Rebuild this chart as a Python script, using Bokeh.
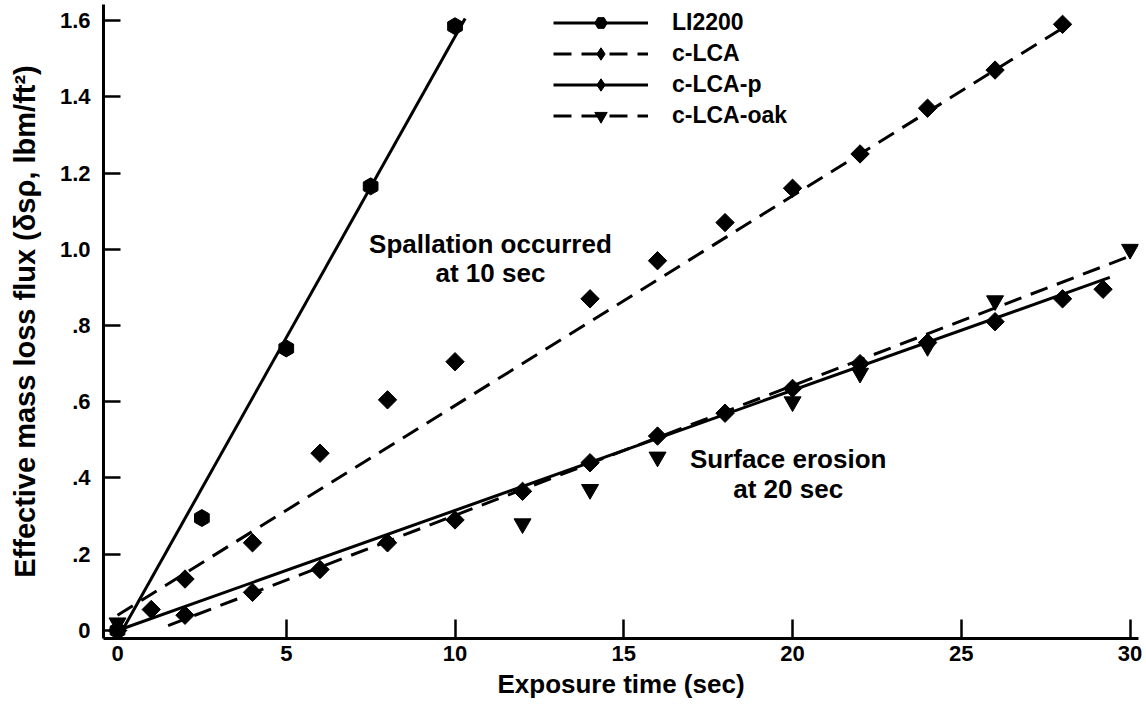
from bokeh.plotting import figure
from bokeh.models import (Range1d, Legend, LegendItem, Label, FixedTicker,
                          CustomJSTickFormatter)
from bokeh.embed import file_html
from bokeh.resources import INLINE
import numpy as np

# Measured mass loss flux (lbm/ft^2) vs exposure time (sec)
li_t = [0, 2.5, 5, 7.5, 10]
li_m = [0.0, 0.295, 0.74, 1.165, 1.585]

clca_t = [0, 1, 2, 4, 6, 8, 10, 14, 16, 18, 20, 22, 24, 26, 28]
clca_m = [0.0, 0.055, 0.135, 0.23, 0.465, 0.605, 0.705, 0.87, 0.97, 1.07,
          1.16, 1.25, 1.37, 1.47, 1.59]

clcap_t = [0, 2, 4, 6, 8, 10, 12, 14, 16, 18, 20, 22, 24, 26, 28, 29.2]
clcap_m = [0.0, 0.04, 0.10, 0.16, 0.23, 0.29, 0.365, 0.44, 0.51, 0.57,
           0.635, 0.70, 0.755, 0.81, 0.87, 0.895]

oak_t = [0, 12, 14, 16, 20, 22, 24, 26, 30]
oak_m = [0.02, 0.28, 0.37, 0.455, 0.60, 0.675, 0.745, 0.865, 1.0]

# Straight-line fits: slope, intercept and time span of each fit
series_names = ["LI2200", "c-LCA", "c-LCA-p", "c-LCA-oak"]
fit_slope = [0.158, 0.055, 0.0315, 0.034]
fit_icpt = [-0.022, 0.04, 0.0, -0.038]
fit_t0 = [0.14, 0.0, 0.0, 1.5]
fit_t1 = [10.3, 28.0, 29.4, 30.1]

x_ticks = [0, 5, 10, 15, 20, 25, 30]
y_ticks = [0, 0.2, 0.4, 0.6, 0.8, 1.0, 1.2, 1.4, 1.6]

FONT = "Liberation Sans"
INK = "#000000"

p = figure(width=1146, height=709, output_backend="svg", toolbar_location=None,
           x_range=Range1d(-0.415, 30.25), y_range=Range1d(-0.021, 1.642),
           min_border_left=103, min_border_right=8, min_border_top=4,
           min_border_bottom=71)
p.outline_line_color = None
p.xgrid.visible = False
p.ygrid.visible = False
p.background_fill_color = "white"

for ax in (p.xaxis[0], p.yaxis[0]):
    ax.axis_line_width = 3
    ax.axis_line_color = INK
    ax.major_tick_line_width = 2.5
    ax.major_tick_line_color = INK
    ax.major_tick_out = 0
    ax.minor_tick_line_color = None
    ax.major_label_text_font = FONT
    ax.major_label_text_font_style = "bold"
    ax.major_label_text_font_size = "22px"
    ax.major_label_text_color = INK
    ax.axis_label_text_font = FONT
    ax.axis_label_text_font_style = "bold"
    ax.axis_label_text_color = INK

p.xaxis.ticker = FixedTicker(ticks=x_ticks)
p.yaxis.ticker = FixedTicker(ticks=y_ticks)
p.xaxis.major_tick_in = 19
p.yaxis.major_tick_in = 17
p.xaxis.major_label_standoff = 7
p.yaxis.major_label_standoff = 13
p.xaxis.axis_label_standoff = 5
p.yaxis.axis_label_standoff = 16
p.xaxis.axis_label_text_font_size = "26px"
p.yaxis.axis_label_text_font_size = "29px"
p.yaxis.formatter = CustomJSTickFormatter(code="""
    if (Math.abs(tick) < 1e-9) return '0';
    const s = tick.toFixed(1);
    return tick < 1 ? s.substring(1) : s;
""")
p.xaxis.axis_label = "Exposure time (sec)"
p.yaxis.axis_label = "Effective mass loss flux (δsρ, lbm/ft²)"

point_t = [li_t, clca_t, clcap_t, oak_t]
point_m = [li_m, clca_m, clcap_m, oak_m]
markers = ["hex", "square", "square", "inverted_triangle"]
key_markers = ["hex", "diamond", "diamond", "inverted_triangle"]
sizes = [17, 13, 13, 17]
dashes = ["solid", "18 10", "solid", "18 10"]
angles = [np.pi / 6, np.pi / 4, np.pi / 4, 0]

items = []
for i, name in enumerate(series_names):
    t = np.array([fit_t0[i], fit_t1[i]])
    m = fit_slope[i] * t + fit_icpt[i]
    lr = p.line(t, m, line_color=INK, line_width=3, line_dash=dashes[i])
    sr = p.scatter(point_t[i], point_m[i], marker=markers[i], size=sizes[i],
                   angle=angles[i], fill_color=INK, line_color=INK)
    if key_markers[i] != markers[i]:
        # key symbol for the legend only (legend glyphs ignore marker angle);
        # its single NaN point keeps it off the plot area
        kr = p.scatter(x=[np.nan], y=[np.nan], marker=key_markers[i],
                       size=sizes[i], fill_color=INK, line_color=INK)
        items.append(LegendItem(label=name, renderers=[lr, kr]))
    else:
        items.append(LegendItem(label=name, renderers=[lr, sr]))

legend = Legend(items=items, location=(450, 507), orientation="vertical",
                glyph_width=95, glyph_height=31, label_height=31, spacing=0,
                padding=0, margin=0, label_standoff=24,
                border_line_color=None, background_fill_alpha=0,
                label_text_font=FONT, label_text_font_style="bold",
                label_text_font_size="23px", label_text_color=INK)
p.add_layout(legend, "center")

notes = [("Spallation occurred", 11.05, 1.015), ("at 10 sec", 11.05, 0.937),
         ("Surface erosion", 19.87, 0.451), ("at 20 sec", 19.87, 0.372)]
for txt, nx, ny in notes:
    p.add_layout(Label(x=nx, y=ny, text=txt, text_align="center",
                       text_baseline="middle", text_font=FONT,
                       text_font_style="bold", text_font_size="26px",
                       text_color=INK))

open("out.html", "w").write(file_html(p, INLINE))
